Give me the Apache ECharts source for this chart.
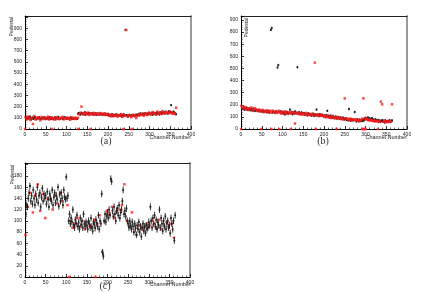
<!DOCTYPE html>
<html><head><meta charset="utf-8">
<script src="https://cdn.jsdelivr.net/npm/echarts@6.0.0/dist/echarts.min.js"></script>
<style>html,body{margin:0;padding:0;background:#fff}#c{width:432px;height:293px}</style>
</head><body><div id="c"></div>
<script>
// ---- Data (channel = 2*i for black series, 1+3*i for red series; C red: 1+6*i) ----
const blackA = [98,92,105,88,101,95,110,85,97,103,90,99,108,94,87,100,96,104,91,89,102,97,93,106,99,88,95,101,92,98,105,90,94,100,87,96,103,92,99,95,108,93,90,97,101,94,88,99,104,96,92,100,95,89,98,102,93,97,91,100,95,99,94,90,
138,142,135,130,145,140,132,137,150,128,141,136,133,144,139,131,135,142,128,137,134,140,126,138,132,136,129,141,133,127,135,130,138,125,132,128,136,
120,128,118,125,132,115,122,127,119,130,124,117,126,121,129,113,123,118,131,120,885,125,122,111,119,127,114,121,124,118,126,115,122,128,120,
128,135,122,140,131,126,138,133,129,142,136,125,139,134,145,130,137,141,128,146,135,140,132,148,138,143,130,150,141,136,152,144,139,155,147,142,138,158,145,150,213,148,140,155,146,138,132];
const redA = [105,88,112,95,80,100,45,115,86,98,104,91,78,107,96,89,101,94,110,85,97,103,90,99,84,106,93,88,100,96,109,87,95,102,91,98,83,104,94,99,90,97,100,
130,145,200,138,128,142,133,147,125,139,136,131,144,127,140,135,129,143,132,138,126,137,130,134,
118,126,112,130,121,115,128,110,123,119,132,108,125,117,885,114,122,120,105,126,116,124,98,119,
130,124,137,128,118,141,133,126,145,138,131,150,135,142,128,155,139,147,134,160,143,137,152,146,140,158,148,136,144,135,190];
const redZeroA = [0,65,128,158,237,257];

const blackB = [185,172,165,178,160,170,168,175,158,163,171,155,166,160,152,168,157,149,162,155,150,158,146,153,148,
145,152,140,148,143,150,138,146,141,135,149,818,835,137,144,139,133,147,140,508,528,143,138,145,132,
140,128,135,120,142,131,138,125,133,160,129,140,122,136,127,145,130,134,510,126,139,132,124,137,128,
125,131,118,127,122,113,129,120,116,124,110,119,126,108,121,115,160,112,118,106,123,114,109,117,111,
105,112,98,115,150,102,108,95,110,100,93,106,97,89,102,94,87,99,91,84,96,88,82,93,86,
80,88,76,84,72,165,79,68,83,74,71,78,140,75,62,80,70,64,77,68,73,65,78,70,82,
92,86,80,95,78,88,74,83,90,70,78,65,80,72,68,75,62,70,58,66,73,60,68,55,71,64,59,67,62,72,58,66,70];
const redB = [190,175,168,182,160,172,158,165,178,150,162,170,155,148,160,152,145,158,140,150,143,155,138,148,135,152,142,138,145,132,150,140,128,137,145,130,142,125,138,133,140,128,135,
45,132,125,138,120,130,118,127,122,133,115,128,120,112,125,118,548,110,122,115,108,120,112,105,
105,98,112,95,102,90,108,94,88,100,85,96,92,82,90,78,253,88,84,75,86,70,80,76,
72,80,68,76,65,74,85,253,90,78,82,70,76,68,73,64,70,62,68,58,66,226,204,60,68,55,63,58,66,60,204];
const redZeroB = [0,48,73,92,120,180,230,292,295,298,300,330];

const blackC = [118,112,128,125,140,150,162,135,145,130,155,140,128,148,138,160,132,145,150,125,142,158,135,148,140,
145,130,152,138,125,148,140,135,155,128,142,150,132,145,138,160,126,147,135,150,140,128,155,143,138,
178,140,145,100,112,95,105,98,120,92,88,102,95,110,90,97,85,105,93,100,88,112,95,90,98,
92,85,100,95,88,105,90,82,98,94,87,102,96,90,110,85,100,95,148,44,37,100,112,98,108,
115,105,120,110,175,170,118,108,125,112,100,118,122,110,128,105,115,120,135,155,112,118,108,122,100,
95,88,100,92,85,98,90,80,95,87,75,92,85,98,80,90,72,88,95,82,90,78,92,85,88,
98,92,125,100,88,105,95,110,90,102,85,98,92,120,88,105,95,82,100,90,108,85,95,100,88,92,78,105,95,85,100,65,110];
const redC = [75,125,150,115,145,165,118,148,105,140,
138,120,145,130,150,135,142,128,100,88,
95,105,90,100,85,98,92,88,102,95,
110,45,100,118,112,125,105,115,120,128,
165,100,90,115,80,75,92,85,88,95,
90,100,95,88,102,85,92,98,88,95,70];
const redZeroC = [107,171];

const errA = 10, errB = 10, errC = 6;
const xTicks = [0,50,100,150,200,250,300,350,400];

// ---- build series data ----
function blackData(vals, err){ return vals.map((v,i)=>[2*i, v, err]); }
function redData(vals, step, zeros){ const d = vals.map((v,i)=>[1+step*i, v]); zeros.forEach(c=>d.push([c,0])); return d; }

const chart = echarts.init(document.getElementById('c'), null, {renderer:'canvas'});
const FONT = 'Liberation Sans';
const grids = [
  {left:25, top:16, width:166, height:113},
  {left:241, top:16, width:166, height:113},
  {left:25, top:163, width:165, height:114}
];
const yMax = [1010, 933, 203];
const yInt = [100, 100, 20];

const xAxes = [], yAxes = [];
grids.forEach((g,gi)=>{
  xAxes.push({gridIndex:gi, type:'value', min:xTicks[0], max:xTicks[xTicks.length-1], interval:50, position:'bottom',
    axisLine:{onZero:false, lineStyle:{color:'#000', width:1}},
    axisTick:{inside:true, length:3, lineStyle:{color:'#000', width:0.8}},
    minorTick:{show:true, splitNumber:5, length:1.5, lineStyle:{color:'#000', width:0.6}},
    axisLabel:{fontSize:5, color:'#222', margin:3, fontFamily:FONT},
    splitLine:{show:false}});
  xAxes.push({gridIndex:gi, type:'value', min:0, max:400, position:'top',
    axisLine:{onZero:false, lineStyle:{color:'#222', width:1}},
    axisTick:{show:false}, axisLabel:{show:false}, splitLine:{show:false}});
  yAxes.push({gridIndex:gi, type:'value', min:0, max:yMax[gi], interval:yInt[gi], position:'left',
    axisLine:{onZero:false, lineStyle:{color:'#000', width:1}},
    axisTick:{inside:true, length:3, lineStyle:{color:'#000', width:0.8}},
    minorTick:{show:true, splitNumber:5, length:1.5, lineStyle:{color:'#000', width:0.6}},
    axisLabel:{fontSize:5, color:'#222', margin:3, fontFamily:FONT,
      formatter:(v)=> (v > yMax[gi] - 15 ? '' : String(v))},
    splitLine:{show:false}});
  yAxes.push({gridIndex:gi, type:'value', min:0, max:yMax[gi], position:'right',
    axisLine:{onZero:false, lineStyle:{color:'#999', width:2}},
    axisTick:{show:false}, axisLabel:{show:false}, splitLine:{show:false}});
});

function renderErr(params, api){
  const x = api.value(0), y = api.value(1), e = api.value(2);
  const p = api.coord([x,y]), lo = api.coord([x,y-e]), hi = api.coord([x,y+e]);
  return {type:'group', children:[
    {type:'line', shape:{x1:p[0], y1:lo[1], x2:p[0], y2:hi[1]}, style:{stroke:'#1a1a1a', lineWidth:0.9}},
    {type:'rect', shape:{x:p[0]-0.9, y:p[1]-0.9, width:1.8, height:1.8}, style:{fill:'#222'}}
  ]};
}

const blacks = [[blackA,errA],[blackB,errB],[blackC,errC]];
const reds = [[redA,3,redZeroA],[redB,3,redZeroB],[redC,6,redZeroC]];
const redZ = [3,3,1];
const series = [];
[0,1,2].forEach(gi=>{
  series.push({type:'custom', name:'black'+gi, xAxisIndex:gi*2, yAxisIndex:gi*2, renderItem:renderErr,
    data:blackData(blacks[gi][0], blacks[gi][1]), clip:true, silent:true, animation:false, z:2});
  series.push({type:'scatter', name:'red'+gi, xAxisIndex:gi*2, yAxisIndex:gi*2, symbol:'rect', symbolSize:2.5,
    itemStyle:{color:'#ff1a1a'}, data:redData(reds[gi][0], reds[gi][1], reds[gi][2]), silent:true, animation:false, z:redZ[gi]});
});

function txt(x,y,t,opt){ return Object.assign({type:'text', x:x, y:y, silent:true,
  style:Object.assign({text:t, fontSize:5, fill:'#222', fontFamily:FONT}, opt.style||{})}, opt.el||{}); }

const graphic = [
  txt(12,17,'Pedestal',{el:{rotation:Math.PI/2}, style:{align:'right', verticalAlign:'middle'}}),
  txt(247,18,'Pedestal',{el:{rotation:Math.PI/2}, style:{align:'right', verticalAlign:'middle'}}),
  txt(12.5,165,'Pedestal',{el:{rotation:Math.PI/2}, style:{align:'right', verticalAlign:'middle'}}),
  txt(191,137,'Channel Number',{style:{align:'right', verticalAlign:'middle', fontSize:5.5}}),
  txt(407,137,'Channel Number',{style:{align:'right', verticalAlign:'middle', fontSize:5.5}}),
  txt(191,284,'Channel Number',{style:{align:'right', verticalAlign:'middle', fontSize:5.5}}),
  txt(106,141,'(a)',{style:{align:'center', verticalAlign:'middle', fontSize:10, fontFamily:'Liberation Serif', fill:'#333'}}),
  txt(323,141,'(b)',{style:{align:'center', verticalAlign:'middle', fontSize:10, fontFamily:'Liberation Serif', fill:'#333'}}),
  txt(105,286,'(c)',{style:{align:'center', verticalAlign:'middle', fontSize:10, fontFamily:'Liberation Serif', fill:'#333'}})
];

chart.setOption({
  backgroundColor:'#fff',
  animation:false,
  grid: grids.map(g=>Object.assign({containLabel:false, outerBoundsMode:'none'}, g)),
  xAxis: xAxes, yAxis: yAxes, series: series, graphic: graphic
});
</script></body></html>
